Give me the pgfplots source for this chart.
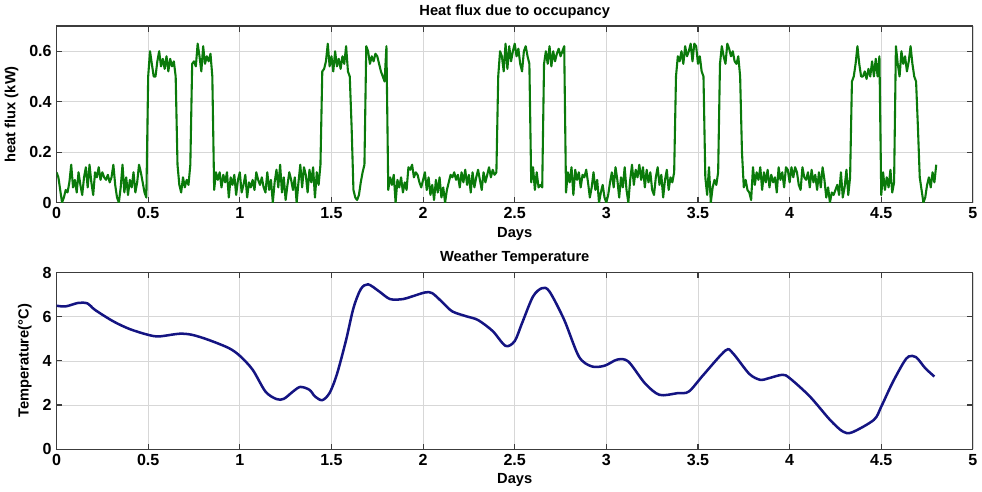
\documentclass[border=0pt]{standalone}
\usepackage{pgfplots}
\pgfplotsset{compat=1.18}
\usepackage{fontspec}
\setmainfont{Liberation Sans}

\definecolor{occgreen}{RGB}{10,122,10}
\definecolor{tempblue}{RGB}{20,20,130}
\definecolor{gridgray}{RGB}{215,215,215}
\definecolor{boxgray}{RGB}{60,60,60}

\pgfplotsset{
  panel/.style={
    scale only axis,
    width=654bp, height=126bp,
    xmin=0, xmax=5,
    xtick={0,0.5,...,5},
    xticklabels={0,0.5,1,1.5,2,2.5,3,3.5,4,4.5,5},
    grid=major,
    major grid style={gridgray, line width=0.5pt},
    axis line style={boxgray, line width=0.8pt},
    tick style={boxgray, line width=0.8pt},
    tick align=inside,
    tick pos=both,
    major tick length=4bp,
    /pgf/number format/assume math mode=true,
    tick label style={font=\bfseries\fontsize{11.5}{13}\selectfont},
    label style={font=\bfseries\fontsize{10.5}{12}\selectfont},
    title style={font=\bfseries\fontsize{10.5}{12}\selectfont, yshift=-4bp},
    xlabel={Days},
    xlabel style={yshift=1bp},
    ylabel style={yshift=1bp},
  }
}

\begin{document}
\begin{tikzpicture}
\begin{axis}[panel,
  title={Heat flux due to occupancy},
  ylabel={heat flux (kW)},
  ymin=0, ymax=0.7,
  ytick={0,0.2,0.4,0.6},
  yticklabels={0,0.2,0.4,0.6},
]
\addplot[occgreen, line width=1.5pt, line join=round] coordinates {
(0.00,0.12)(0.01,0.10)(0.02,0.05)(0.03,0.00)(0.04,0.02)(0.05,0.05)(0.06,0.04)(0.07,0.08)(0.08,0.15)(0.09,0.06)
(0.10,0.09)(0.11,0.04)(0.12,0.12)(0.13,0.07)(0.14,0.03)(0.15,0.10)(0.16,0.14)(0.17,0.06)(0.18,0.15)(0.19,0.08)
(0.20,0.03)(0.21,0.12)(0.22,0.10)(0.23,0.14)(0.24,0.09)(0.25,0.12)(0.26,0.10)(0.27,0.09)(0.28,0.11)(0.29,0.08)
(0.30,0.10)(0.31,0.15)(0.32,0.07)(0.33,0.02)(0.34,0.00)(0.35,0.06)(0.36,0.15)(0.37,0.04)(0.38,0.10)(0.39,0.03)
(0.40,0.09)(0.41,0.06)(0.42,0.12)(0.43,0.04)(0.44,0.08)(0.45,0.15)(0.46,0.12)(0.47,0.08)(0.48,0.04)(0.49,0.02)
(0.50,0.50)(0.51,0.60)(0.52,0.55)(0.53,0.50)(0.54,0.50)(0.55,0.56)(0.56,0.60)(0.57,0.54)(0.58,0.57)(0.59,0.53)
(0.60,0.58)(0.61,0.52)(0.62,0.57)(0.63,0.54)(0.64,0.56)(0.65,0.50)(0.66,0.15)(0.67,0.07)(0.68,0.04)(0.69,0.10)
(0.70,0.06)(0.71,0.09)(0.72,0.07)(0.73,0.15)(0.74,0.55)(0.75,0.56)(0.76,0.54)(0.77,0.63)(0.78,0.58)(0.79,0.52)
(0.80,0.62)(0.81,0.55)(0.82,0.58)(0.83,0.56)(0.84,0.59)(0.85,0.50)(0.86,0.05)(0.87,0.12)(0.88,0.09)(0.89,0.12)
(0.90,0.06)(0.91,0.11)(0.92,0.08)(0.93,0.12)(0.94,0.02)(0.95,0.10)(0.96,0.07)(0.97,0.11)(0.98,0.03)(0.99,0.09)
(1.00,0.12)(1.01,0.04)(1.02,0.07)(1.03,0.11)(1.04,0.02)(1.05,0.08)(1.06,0.06)(1.07,0.09)(1.08,0.05)(1.09,0.12)
(1.10,0.09)(1.11,0.07)(1.12,0.10)(1.13,0.06)(1.14,0.04)(1.15,0.12)(1.16,0.05)(1.17,0.09)(1.18,0.00)(1.19,0.08)
(1.20,0.13)(1.21,0.06)(1.22,0.15)(1.23,0.04)(1.24,0.10)(1.25,0.01)(1.26,0.07)(1.27,0.12)(1.28,0.09)(1.29,0.05)
(1.30,0.10)(1.31,0.00)(1.32,0.08)(1.33,0.15)(1.34,0.06)(1.35,0.14)(1.36,0.11)(1.37,0.04)(1.38,0.13)(1.39,0.08)
(1.40,0.14)(1.41,0.02)(1.42,0.12)(1.43,0.07)(1.44,0.15)(1.45,0.52)(1.46,0.53)(1.47,0.56)(1.48,0.63)(1.49,0.54)
(1.50,0.58)(1.51,0.52)(1.52,0.60)(1.53,0.54)(1.54,0.57)(1.55,0.53)(1.56,0.58)(1.57,0.55)(1.58,0.62)(1.59,0.52)
(1.60,0.50)(1.61,0.30)(1.62,0.05)(1.63,0.02)(1.64,0.01)(1.65,0.03)(1.66,0.08)(1.67,0.12)(1.68,0.15)(1.69,0.62)
(1.70,0.60)(1.71,0.55)(1.72,0.58)(1.73,0.56)(1.74,0.59)(1.75,0.58)(1.76,0.55)(1.77,0.52)(1.78,0.50)(1.79,0.48)
(1.80,0.62)(1.81,0.05)(1.82,0.10)(1.83,0.07)(1.84,0.11)(1.85,0.00)(1.86,0.09)(1.87,0.06)(1.88,0.10)(1.89,0.04)
(1.90,0.08)(1.91,0.05)(1.92,0.14)(1.93,0.13)(1.94,0.15)(1.95,0.10)(1.96,0.12)(1.97,0.11)(1.98,0.08)(1.99,0.06)
(2.00,0.09)(2.01,0.12)(2.02,0.05)(2.03,0.10)(2.04,0.03)(2.05,0.07)(2.06,0.01)(2.07,0.09)(2.08,0.04)(2.09,0.10)
(2.10,0.02)(2.11,0.06)(2.12,0.00)(2.13,0.05)(2.14,0.08)(2.15,0.11)(2.16,0.10)(2.17,0.12)(2.18,0.09)(2.19,0.11)
(2.20,0.06)(2.21,0.12)(2.22,0.08)(2.23,0.13)(2.24,0.07)(2.25,0.11)(2.26,0.04)(2.27,0.12)(2.28,0.06)(2.29,0.10)
(2.30,0.13)(2.31,0.09)(2.32,0.05)(2.33,0.12)(2.34,0.08)(2.35,0.11)(2.36,0.14)(2.37,0.10)(2.38,0.13)(2.39,0.11)
(2.40,0.12)(2.41,0.50)(2.42,0.60)(2.43,0.58)(2.44,0.52)(2.45,0.63)(2.46,0.53)(2.47,0.62)(2.48,0.56)(2.49,0.60)
(2.50,0.63)(2.51,0.58)(2.52,0.61)(2.53,0.55)(2.54,0.52)(2.55,0.60)(2.56,0.62)(2.57,0.58)(2.58,0.55)(2.59,0.08)
(2.60,0.14)(2.61,0.05)(2.62,0.12)(2.63,0.06)(2.64,0.07)(2.65,0.06)(2.66,0.55)(2.67,0.60)(2.68,0.55)(2.69,0.62)
(2.70,0.54)(2.71,0.60)(2.72,0.56)(2.73,0.59)(2.74,0.61)(2.75,0.58)(2.76,0.60)(2.77,0.62)(2.78,0.04)(2.79,0.12)
(2.80,0.08)(2.81,0.14)(2.82,0.03)(2.83,0.13)(2.84,0.09)(2.85,0.12)(2.86,0.06)(2.87,0.11)(2.88,0.10)(2.89,0.13)
(2.90,0.08)(2.91,0.02)(2.92,0.06)(2.93,0.12)(2.94,0.05)(2.95,0.09)(2.96,0.00)(2.97,0.04)(2.98,0.07)(2.99,0.02)
(3.00,0.00)(3.01,0.03)(3.02,0.08)(3.03,0.12)(3.04,0.06)(3.05,0.14)(3.06,0.09)(3.07,0.02)(3.08,0.10)(3.09,0.06)
(3.10,0.14)(3.11,0.05)(3.12,0.00)(3.13,0.09)(3.14,0.15)(3.15,0.07)(3.16,0.13)(3.17,0.10)(3.18,0.15)(3.19,0.09)
(3.20,0.14)(3.21,0.06)(3.22,0.13)(3.23,0.08)(3.24,0.12)(3.25,0.05)(3.26,0.03)(3.27,0.10)(3.28,0.14)(3.29,0.07)
(3.30,0.11)(3.31,0.02)(3.32,0.09)(3.33,0.13)(3.34,0.05)(3.35,0.10)(3.36,0.08)(3.37,0.12)(3.38,0.50)(3.39,0.58)
(3.40,0.56)(3.41,0.60)(3.42,0.55)(3.43,0.62)(3.44,0.58)(3.45,0.60)(3.46,0.63)(3.47,0.56)(3.48,0.63)(3.49,0.62)
(3.50,0.55)(3.51,0.58)(3.52,0.52)(3.53,0.50)(3.54,0.10)(3.55,0.03)(3.56,0.14)(3.57,0.00)(3.58,0.06)(3.59,0.09)
(3.60,0.07)(3.61,0.12)(3.62,0.55)(3.63,0.62)(3.64,0.58)(3.65,0.55)(3.66,0.63)(3.67,0.61)(3.68,0.58)(3.69,0.60)
(3.70,0.56)(3.71,0.55)(3.72,0.58)(3.73,0.50)(3.74,0.20)(3.75,0.06)(3.76,0.09)(3.77,0.05)(3.78,0.04)(3.79,0.01)
(3.80,0.14)(3.81,0.07)(3.82,0.12)(3.83,0.09)(3.84,0.14)(3.85,0.05)(3.86,0.12)(3.87,0.08)(3.88,0.13)(3.89,0.06)
(3.90,0.11)(3.91,0.08)(3.92,0.10)(3.93,0.04)(3.94,0.14)(3.95,0.09)(3.96,0.12)(3.97,0.06)(3.98,0.14)(3.99,0.13)
(4.00,0.08)(4.01,0.14)(4.02,0.10)(4.03,0.14)(4.04,0.12)(4.05,0.07)(4.06,0.05)(4.07,0.14)(4.08,0.10)(4.09,0.09)
(4.10,0.12)(4.11,0.06)(4.12,0.13)(4.13,0.08)(4.14,0.11)(4.15,0.05)(4.16,0.12)(4.17,0.06)(4.18,0.14)(4.19,0.09)
(4.20,0.02)(4.21,0.06)(4.22,0.00)(4.23,0.04)(4.24,0.03)(4.25,0.05)(4.26,0.07)(4.27,0.03)(4.28,0.12)(4.29,0.02)
(4.30,0.06)(4.31,0.13)(4.32,0.03)(4.33,0.10)(4.34,0.48)(4.35,0.50)(4.36,0.55)(4.37,0.62)(4.38,0.55)(4.39,0.50)
(4.40,0.50)(4.41,0.52)(4.42,0.49)(4.43,0.53)(4.44,0.50)(4.45,0.56)(4.46,0.50)(4.47,0.57)(4.48,0.50)(4.49,0.58)
(4.50,0.03)(4.51,0.12)(4.52,0.05)(4.53,0.10)(4.54,0.06)(4.55,0.13)(4.56,0.04)(4.57,0.08)(4.58,0.62)(4.59,0.55)
(4.60,0.50)(4.61,0.60)(4.62,0.55)(4.63,0.58)(4.64,0.52)(4.65,0.56)(4.66,0.62)(4.67,0.55)(4.68,0.50)(4.69,0.48)
(4.70,0.30)(4.71,0.10)(4.72,0.05)(4.73,0.00)(4.74,0.02)(4.75,0.07)(4.76,0.10)(4.77,0.06)(4.78,0.12)(4.79,0.08)
(4.80,0.15)
};
\end{axis}

\begin{axis}[panel, at={(0,-176bp)},
  title={Weather Temperature},
  ylabel={Temperature(°C)},
  ymin=0, ymax=8,
  ytick={0,2,4,6,8},
]
\addplot[tempblue, line width=1.8pt, smooth, tension=0.5] coordinates {
(0.00,6.50)(0.05,6.47)(0.12,6.63)(0.17,6.60)(0.21,6.31)(0.31,5.79)(0.40,5.44)(0.50,5.18)
(0.56,5.11)(0.67,5.23)(0.74,5.18)(0.83,4.95)(0.94,4.58)(1.00,4.23)(1.07,3.60)(1.14,2.61)
(1.20,2.27)(1.24,2.28)(1.29,2.61)(1.33,2.82)(1.38,2.69)(1.41,2.39)(1.45,2.22)(1.49,2.55)
(1.53,3.40)(1.58,4.95)(1.62,6.39)(1.66,7.25)(1.70,7.47)(1.76,7.15)(1.82,6.80)(1.89,6.80)
(1.94,6.92)(2.01,7.10)(2.05,7.07)(2.11,6.62)(2.16,6.24)(2.24,6.01)(2.30,5.85)(2.38,5.35)
(2.45,4.68)(2.50,4.90)(2.54,5.71)(2.60,6.92)(2.65,7.30)(2.69,7.14)(2.77,5.86)(2.85,4.20)
(2.92,3.75)(2.99,3.78)(3.06,4.06)(3.12,3.97)(3.21,2.99)(3.29,2.46)(3.39,2.54)(3.45,2.61)
(3.53,3.37)(3.65,4.47)(3.69,4.35)(3.78,3.41)(3.84,3.14)(3.88,3.20)(3.96,3.37)(4.00,3.22)
(4.11,2.39)(4.22,1.33)(4.29,0.80)(4.34,0.76)(4.46,1.33)(4.50,1.93)(4.56,2.99)(4.62,3.90)
(4.65,4.20)(4.69,4.17)(4.74,3.67)(4.79,3.29)
};
\end{axis}
\end{tikzpicture}
\end{document}
